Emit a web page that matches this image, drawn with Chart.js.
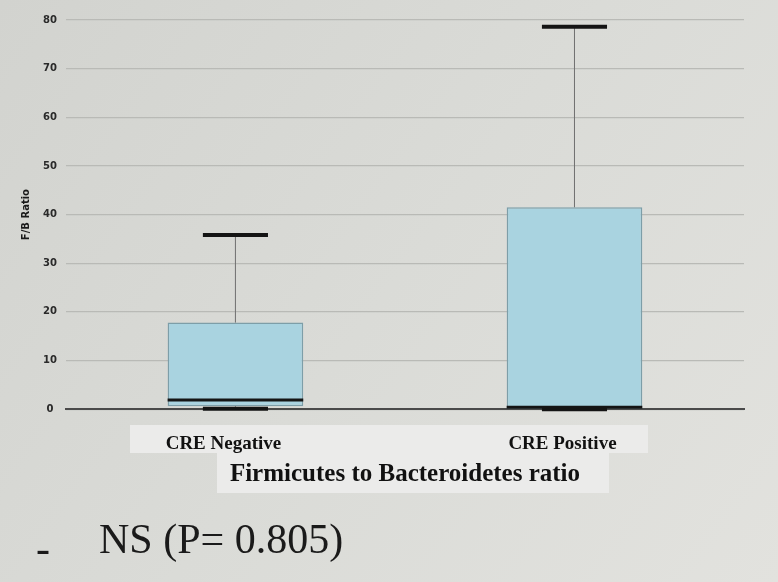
<!DOCTYPE html>
<html>
<head>
<meta charset="utf-8">
<script src="https://cdn.jsdelivr.net/npm/chart.js@4/dist/chart.umd.min.js"></script>
<style>
html,body{margin:0;padding:0;background:#d9dad6;}
#wrap{width:778px;height:582px;position:relative;}
</style>
</head>
<body>
<div id="wrap"><canvas id="c" width="778" height="582"></canvas></div>
<script>
// ---- data ----
const categories = ['CRE Negative', 'CRE Positive'];
const whiskerMin = [0.1, 0.0];
const quartile1  = [0.6, 0.1];
const medians    = [1.9, 0.4];
const quartile3  = [17.8, 41.5];
const whiskerMax = [35.8, 78.6];
const yTicks = [0, 10, 20, 30, 40, 50, 60, 70, 80];
const axisTitleY = 'F/B Ratio';
const axisTitleX = 'Firmicutes to Bacteroidetes ratio';
const noteDash = '-';
const noteText = 'NS (P= 0.805)';

const boxData = categories.map((c, i) => [quartile1[i], quartile3[i]]);

const decorPlugin = {
  id: 'decor',
  beforeDraw(chart) {
    const ctx = chart.ctx;
    ctx.save();
    const g = ctx.createLinearGradient(0, 0, chart.width, chart.height);
    g.addColorStop(0, '#d2d3cf');
    g.addColorStop(0.5, '#dadbd7');
    g.addColorStop(1, '#e2e2de');
    ctx.fillStyle = g;
    ctx.fillRect(0, 0, chart.width, chart.height);
    // label band and title box
    ctx.fillStyle = '#ebebea';
    ctx.fillRect(130, 425, 518, 28);
    ctx.fillRect(217, 453, 392, 40);
    ctx.restore();
  },
  afterDraw(chart) {
    const ctx = chart.ctx;
    ctx.save();
    ctx.fillStyle = '#1a1a1a';
    ctx.textBaseline = 'alphabetic';
    ctx.font = '42px "Liberation Serif", "Times New Roman", serif';
    ctx.fillText(noteDash, 36, 562);
    ctx.fillText(noteText, 99, 553);
    ctx.restore();
  }
};

const boxPlugin = {
  id: 'boxWhiskers',
  afterDatasetsDraw(chart) {
    const ctx = chart.ctx;
    const y = chart.scales.y;
    const meta = chart.getDatasetMeta(0);
    const line = (x1, y1, x2, y2, color, w) => {
      ctx.beginPath();
      ctx.moveTo(x1, y1); ctx.lineTo(x2, y2);
      ctx.strokeStyle = color; ctx.lineWidth = w; ctx.lineCap = 'butt';
      ctx.stroke();
    };
    ctx.save();
    meta.data.forEach((bar, i) => {
      const x = bar.x, w = bar.width, cw = w * 0.48;
      const yMax = y.getPixelForValue(whiskerMax[i]);
      const yMin = y.getPixelForValue(whiskerMin[i]);
      const yQ3 = y.getPixelForValue(quartile3[i]);
      const yQ1 = y.getPixelForValue(quartile1[i]);
      const yMed = y.getPixelForValue(medians[i]);
      line(x, yQ3, x, yMax, '#707070', 1);
      line(x, yQ1, x, yMin, '#707070', 1);
      line(x - cw / 2, yMax, x + cw / 2, yMax, '#141414', 4);
      line(x - cw / 2, yMin, x + cw / 2, yMin, '#141414', 4);
      line(x - w / 2, yMed, x + w / 2, yMed, '#141414', 3);
    });
    ctx.restore();
  }
};

new Chart(document.getElementById('c'), {
  type: 'bar',
  data: {
    labels: categories,
    datasets: [{
      label: 'F/B ratio',
      data: boxData,
      backgroundColor: '#a9d3e0',
      borderColor: '#7d9ea8',
      borderWidth: 1.5,
      borderSkipped: false,
      barPercentage: 0.4,
      categoryPercentage: 1.0
    }]
  },
  plugins: [decorPlugin, boxPlugin],
  options: {
    responsive: false,
    animation: false,
    devicePixelRatio: 1,
    layout: { padding: { top: 20, left: 10, right: 34, bottom: 92 } },
    plugins: { legend: { display: false }, tooltip: { enabled: false } },
    scales: {
      x: {
        grid: { display: false, drawTicks: false },
        border: { display: true, color: '#4a4a4a', width: 2 },
        ticks: {
          color: '#111',
          padding: 23,
          labelOffset: -12,
          font: { family: '"Liberation Serif", "Times New Roman", serif', size: 19, weight: 'bold' }
        },
        title: {
          display: true,
          text: axisTitleX,
          color: '#111',
          padding: { top: -18, bottom: 0 },
          font: { family: '"Liberation Serif", "Times New Roman", serif', size: 25, weight: 'bold' }
        }
      },
      y: {
        min: 0,
        max: 80,
        afterBuildTicks(scale) { scale.ticks = yTicks.map(v => ({ value: v })); },
        grid: { color: '#b9bab6', lineWidth: 1.3, drawTicks: false },
        border: { display: false },
        ticks: {
          color: '#2a2a2a',
          padding: 9,
          crossAlign: 'center',
          font: { family: '"DejaVu Sans", Verdana, sans-serif', size: 10, weight: 'bold' }
        },
        title: {
          display: true,
          text: axisTitleY,
          color: '#1a1a1a',
          padding: { top: 10, bottom: 2 },
          font: { family: '"DejaVu Sans", Verdana, sans-serif', size: 10, weight: 'bold' }
        }
      }
    }
  }
});
</script>
</body>
</html>
